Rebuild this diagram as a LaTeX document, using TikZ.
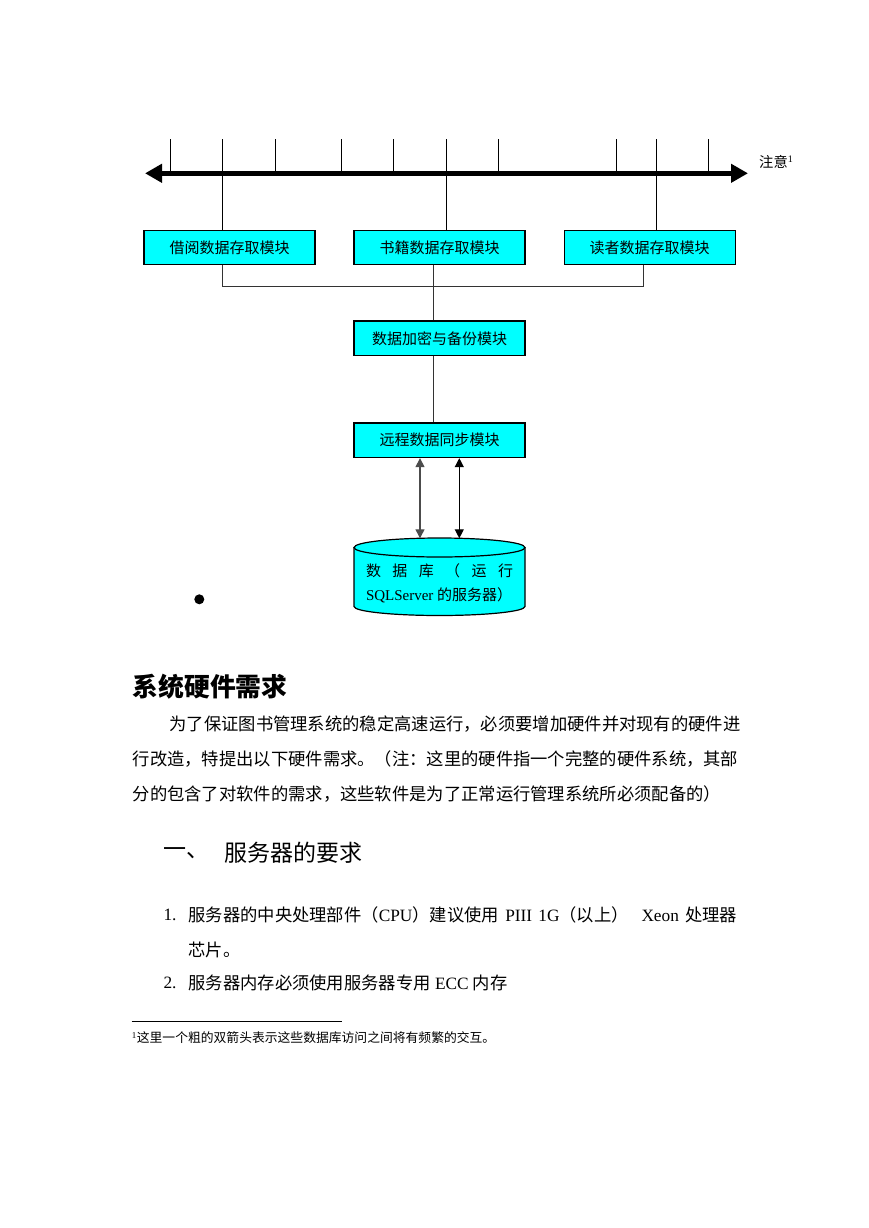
\documentclass[tikz,border=0pt]{standalone}
\usepackage{fontspec}
\setmainfont{Liberation Serif}
\newfontfamily\cjk{Noto Sans CJK SC}
\XeTeXlinebreaklocale "zh"
\XeTeXlinebreakskip = 0pt plus 2pt
\newcommand{\en}[1]{{\rmfamily #1}}
\usetikzlibrary{arrows.meta}
\definecolor{aqua}{RGB}{0,255,255}

\begin{document}
\begin{tikzpicture}[
    x=1pt, y=-1pt,
    module/.style={draw=black, line width=1.2pt, fill=aqua, minimum width=171pt,
      minimum height=34.5pt, inner sep=0pt, font=\cjk\fontsize{15}{18}\selectfont},
    wire/.style={draw=black!80, line width=1pt},
    tickline/.style={draw=black, line width=1pt},
    axis/.style={draw=black, line width=4.5pt,
      {Triangle[length=17pt,width=18pt]}-{Triangle[length=17pt,width=18pt]}},
    syncarrow/.style={line width=1.2pt,
      {Triangle[length=9pt,width=9pt]}-{Triangle[length=9pt,width=9pt]}},
    dbbody/.style={fill=aqua, draw=black, line width=1.2pt},
    dbtext/.style={align=left, inner sep=0pt, font=\cjk\fontsize{15}{23.3}\selectfont},
    txtline/.style={anchor=west, inner sep=0pt, font=\cjk\fontsize{17.3}{20}\selectfont},
    head/.style={anchor=west, inner sep=0pt, font=\cjk\bfseries\fontsize{25.8}{30}\selectfont},
    subhead/.style={anchor=west, inner sep=0pt, font=\cjk\fontsize{23}{27}\selectfont},
    fnote/.style={anchor=west, inner sep=0pt, font=\cjk\fontsize{12.8}{15}\selectfont},
]
\path[use as bounding box, fill=white] (0,0) rectangle (869,1228);

% ---------------------------------------------------------
% Time axis with ticks
% ---------------------------------------------------------
\foreach \x [count=\i] in {170.7,222.7,275.3,341.3,393.7,446,498.7,616.7,656.3,708.7}
  {\coordinate (tk\i) at (\x,173.3);
   \draw[tickline] (\x,139) -- (tk\i);}
\coordinate (axL) at (145,173.3);
\coordinate (axR) at (748,173.3);
\draw[axis] (axL) -- (axR);
\node[anchor=west, inner sep=0pt, font=\cjk\fontsize{14.3}{17}\selectfont] (note)
  at (759,161.7) {注意\textsuperscript{\en{1}}};

% ---------------------------------------------------------
% Modules
% ---------------------------------------------------------
\node[module] (borrow)  at (229.5,247.5) {借阅数据存取模块};
\node[module] (books)   at (439.5,247.5) {书籍数据存取模块};
\node[module] (readers) at (649.7,247.5) {读者数据存取模块};
\node[module] (backup)  at (439.5,338.3) {数据加密与备份模块};
\node[module] (remote)  at (439.5,440.3) {远程数据同步模块};

\draw[tickline] (tk2) -- (tk2 |- borrow.north);
\draw[tickline] (tk6) -- (tk6 |- books.north);
\draw[tickline] (tk9) -- (tk9 |- readers.north);

\coordinate (bus) at (433,286.7);
\draw[wire] ([xshift=-6.8pt]borrow.south) |- (bus) -| ([xshift=-6.4pt]readers.south);
\draw[wire] ([xshift=-6.5pt]books.south) -- ([xshift=-6.5pt]backup.north);
\draw[wire] ([xshift=-6.2pt]backup.south) -- ([xshift=-6.2pt]remote.north);

% ---------------------------------------------------------
% Database cylinder
% ---------------------------------------------------------
\fill[aqua] (354,547.5) -- (354,606.5)
  arc[start angle=180, end angle=0, x radius=85.5, y radius=9] -- (525,547.5) -- cycle;
\draw[dbbody, fill=none] (354,547.5) -- (354,606.5)
  arc[start angle=180, end angle=0, x radius=85.5, y radius=9] -- (525,547.5);
\draw[dbbody] (439.5,547.5) ellipse[x radius=85.5, y radius=9.5];
\coordinate (dbtop) at (439.5,538.3);
\node[dbtext] (db) at (439.5,583.3)
  {\makebox[147pt][s]{数\hfill 据\hfill 库\hfill （\hfill 运\hfill 行}\\
   \en{SQLServer }的服务器）};

\draw[syncarrow, draw=black!70] ([xshift=-19.5pt]remote.south)
  -- ([xshift=-19.5pt]remote.south |- dbtop);
\draw[syncarrow] ([xshift=19.8pt]remote.south)
  -- ([xshift=19.8pt]remote.south |- dbtop);

\node[circle, fill=black, inner sep=0pt, minimum size=10pt] (bullet) at (199.3,599.3) {};

% ---------------------------------------------------------
% Text below the diagram
% ---------------------------------------------------------
\node[head] (title) at (132.5,686.7) {系统硬件需求};
\node[txtline] (p1) at (169.3,724)
  {\makebox[567.7pt][s]{为了保证图书管理系统的稳定高速运行，必须要增加硬件并对现有的硬件进}};
\node[txtline] (p2) at (132.5,759)
  {\makebox[604.5pt][s]{行改造，特提出以下硬件需求。（注：这里的硬件指一个完整的硬件系统，其部}};
\node[txtline] (p3) at (132.5,794)
  {分的包含了对软件的需求，这些软件是为了正常运行管理系统所必须配备的）};

\node[subhead] (secno) at (163,853) {一、};
\node[subhead] (sec)   at (224.5,853) {服务器的要求};

\node[txtline] (n1) at (163.3,915) {\en{1.}};
\node[txtline] (item1) at (188.3,915)
  {\makebox[548.7pt][s]{服务器的中央处理部件（\en{CPU}）建议使用\en{ PIII 1G}（以上）\en{ \ Xeon }处理器}};
\node[txtline] (item1b) at (188.3,950) {芯片。};
\node[txtline] (n2) at (163.3,983) {\en{2.}};
\node[txtline] (item2) at (188.3,983) {服务器内存必须使用服务器专用\en{ ECC }内存};

% footnote
\coordinate (fnL) at (131.7,1021.7);
\coordinate (fnR) at (341.7,1021.7);
\draw[line width=1pt] (fnL) -- (fnR);
\node[fnote] (fn) at (131.7,1037.5)
  {\textsuperscript{\en{1}}这里一个粗的双箭头表示这些数据库访问之间将有频繁的交互。};
\end{tikzpicture}
\end{document}
